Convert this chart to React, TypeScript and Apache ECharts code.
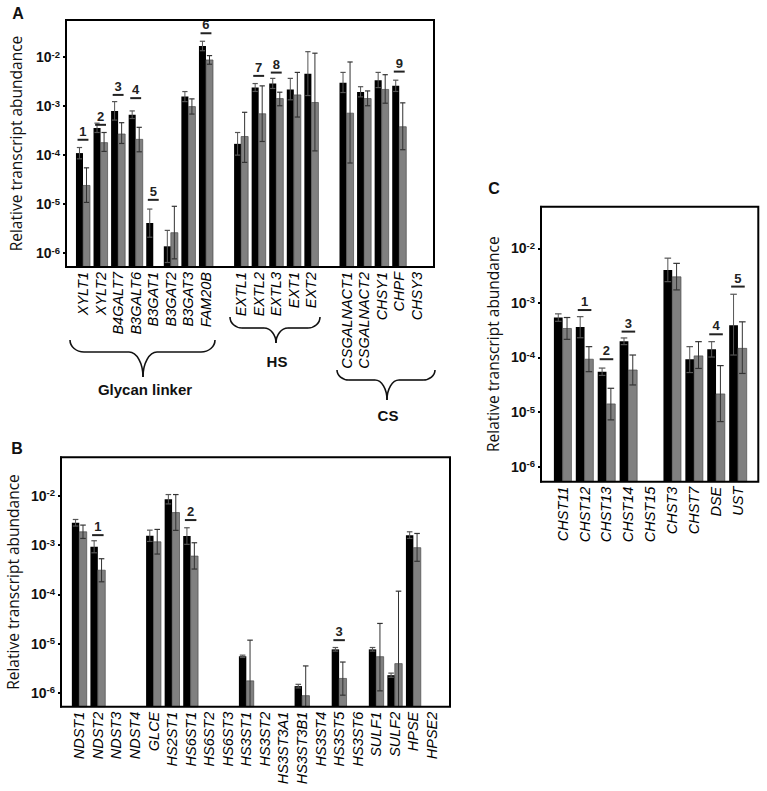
import React, { useEffect, useRef } from 'react';
import * as echarts from 'echarts';

// ---------------- DATA ----------------
const yTickValues = [1e-6, 1e-5, 1e-4, 1e-3, 1e-2];

// Panel A
const catA = ['XYLT1', 'XYLT2', 'B4GALT7', 'B3GALT6', 'B3GAT1', 'B3GAT2', 'B3GAT3', 'FAM20B', '', 'EXTL1', 'EXTL2', 'EXTL3', 'EXT1', 'EXT2', '', 'CSGALNACT1', 'CSGALNACT2', 'CHSY1', 'CHPF', 'CHSY3'];
const aBlack = [1.1e-4, 3.6e-4, 8.0e-4, 6.7e-4, 4.1e-6, 1.37e-6, 1.57e-3, 1.7e-2, null, 1.7e-4, 2.4e-3, 2.9e-3, 2.2e-3, 4.6e-3, null, 3.0e-3, 1.96e-3, 3.4e-3, 2.6e-3, null];
const aBlackHi = [1.43e-4, 4.5e-4, 1.24e-3, 8.0e-4, 7.9e-6, 2.9e-6, 1.99e-3, 2.12e-2, null, 2.9e-4, 2.9e-3, 3.7e-3, 3.7e-3, 1.3e-2, null, 4.9e-3, 2.5e-3, 4.9e-3, 3.4e-3, null];
const aBlackLo = [8.4e-5, 2.9e-4, 5.2e-4, 5.6e-4, 2.1e-6, 6.4e-7, 1.24e-3, 1.36e-2, null, 1.0e-4, 2.0e-3, 2.3e-3, 1.35e-3, 1.65e-3, null, 1.9e-3, 1.55e-3, 2.4e-3, 2.0e-3, null];
const aGray = [2.4e-5, 1.8e-4, 2.7e-4, 2.1e-4, null, 2.6e-6, 9.8e-4, 8.8e-3, null, 2.4e-4, 7.0e-4, 1.43e-3, 1.7e-3, 1.19e-3, null, 7.2e-4, 1.43e-3, 2.2e-3, 3.8e-4, null];
const aGrayHi = [5.5e-5, 2.9e-4, 4.6e-4, 3.7e-4, null, 9.0e-6, 1.41e-3, 1.08e-2, null, 7.5e-4, 2.6e-3, 1.93e-3, 4.9e-3, 1.21e-2, null, 8.0e-3, 2.05e-3, 4.4e-3, 1.17e-3, null];
const aGrayLo = [1.08e-5, 1.19e-4, 1.73e-4, 1.17e-4, null, 7.6e-7, 6.9e-4, 7.2e-3, null, 7.1e-5, 1.9e-4, 1.02e-3, 6.0e-4, 1.22e-4, null, 6.9e-5, 1.02e-3, 1.15e-3, 1.29e-4, null];
const aMarkIdx = [0, 1, 2, 3, 4, 7, 10, 11, 18];
const aMarkLevel = [2.06e-4, 4.16e-4, 1.7e-3, 1.46e-3, 1.22e-5, 3.09e-2, 4.16e-3, 4.86e-3, 5.09e-3];
const aMarkText = ['1', '2', '3', '4', '5', '6', '7', '8', '9'];

// Panel B
const catB = ['NDST1', 'NDST2', 'NDST3', 'NDST4', 'GLCE', 'HS2ST1', 'HS6ST1', 'HS6ST2', 'HS6ST3', 'HS3ST1', 'HS3ST2', 'HS3ST3A1', 'HS3ST3B1', 'HS3ST4', 'HS3ST5', 'HS3ST6', 'SULF1', 'SULF2', 'HPSE', 'HPSE2'];
const bBlack = [2.85e-3, 9.3e-4, null, null, 1.55e-3, 8.6e-3, 1.53e-3, null, null, 5.5e-6, null, null, 1.36e-6, null, 7.6e-6, null, 7.6e-6, 2.27e-6, 1.6e-3, null];
const bBlackHi = [3.33e-3, 1.23e-3, null, null, 2.02e-3, 1.07e-2, 2.26e-3, null, null, 5.8e-6, null, null, 1.48e-6, null, 8.3e-6, null, 8.3e-6, 2.5e-6, 1.87e-3, null];
const bBlackLo = [2.45e-3, 7.0e-4, null, null, 1.19e-3, 6.9e-3, 1.04e-3, null, null, 5.2e-6, null, null, 1.25e-6, null, 7.0e-6, null, 7.0e-6, 2.06e-6, 1.37e-3, null];
const bGray = [1.87e-3, 3.1e-4, null, null, 1.17e-3, 4.6e-3, 6.0e-4, null, null, 1.74e-6, null, null, 8.7e-7, null, 1.95e-6, null, 5.4e-6, 3.9e-6, 8.9e-4, null];
const bGrayHi = [2.56e-3, 5.3e-4, null, null, 2.09e-3, 1.07e-2, 1.12e-3, null, null, 1.17e-5, null, null, 3.5e-6, null, 4.2e-6, null, 2.56e-5, 1.16e-4, 1.73e-3, null];
const bGrayLo = [1.37e-3, 1.8e-4, null, null, 6.6e-4, 2.0e-3, 3.27e-4, null, null, 2.6e-7, null, null, 2.2e-7, null, 8.9e-7, null, 1.09e-6, 1.3e-7, 4.7e-4, null];
const bMarkIdx = [1, 6, 14];
const bMarkLevel = [1.6e-3, 3.24e-3, 1.17e-5];
const bMarkText = ['1', '2', '3'];

// Panel C
const catC = ['CHST11', 'CHST12', 'CHST13', 'CHST14', 'CHST15', 'CHST3', 'CHST7', 'DSE', 'UST'];
const cBlack = [5.4e-4, 3.6e-4, 5.5e-5, 1.98e-4, null, 4.0e-3, 9.3e-5, 1.41e-4, 3.9e-4];
const cBlackHi = [6.3e-4, 5.6e-4, 6.4e-5, 2.28e-4, null, 6.6e-3, 1.58e-4, 1.95e-4, 1.44e-3];
const cBlackLo = [4.6e-4, 2.3e-4, 4.7e-5, 1.72e-4, null, 2.45e-3, 5.3e-5, 1.02e-4, 1.11e-4];
const cGray = [3.4e-4, 9.3e-5, 1.41e-5, 5.9e-5, null, 3.0e-3, 1.07e-4, 2.15e-5, 1.47e-4];
const cGrayHi = [5.4e-4, 1.58e-4, 2.73e-5, 1.11e-4, null, 5.3e-3, 1.95e-4, 7.1e-5, 4.5e-4];
const cGrayLo = [2.15e-4, 5.5e-5, 7.2e-6, 3.14e-5, null, 1.73e-3, 6.3e-5, 6.7e-6, 5.1e-5];
const cMarkIdx = [1, 2, 3, 7, 8];
const cMarkLevel = [7.4e-4, 9.3e-5, 2.98e-4, 2.66e-4, 1.99e-3];
const cMarkText = ['1', '2', '3', '4', '5'];

const groupLabels = ['Glycan linker', 'HS', 'CS'];
const panelLetters = ['A', 'B', 'C'];
const yTitle = 'Relative transcript abundance';

// ---------------- LAYOUT ----------------
const panels = [
  { cats: catA, black: aBlack, blackHi: aBlackHi, blackLo: aBlackLo, gray: aGray, grayHi: aGrayHi, grayLo: aGrayLo,
    markIdx: aMarkIdx, markLevel: aMarkLevel, markText: aMarkText,
    grid: { left: 74.2, top: 20, width: 351.4, height: 247 }, frame: { x: 66, y: 20, w: 368, h: 247 },
    yMinExp: -6.286, yMaxExp: -1.239, nameGap: 42 },
  { cats: catB, black: bBlack, blackHi: bBlackHi, blackLo: bBlackLo, gray: bGray, grayHi: bGrayHi, grayLo: bGrayLo,
    markIdx: bMarkIdx, markLevel: bMarkLevel, markText: bMarkText,
    grid: { left: 70, top: 457.3, width: 371.2, height: 249.4 }, frame: { x: 61, y: 457.3, w: 389, h: 249.4 },
    yMinExp: -6.285, yMaxExp: -1.213, nameGap: 40 },
  { cats: catC, black: cBlack, blackHi: cBlackHi, blackLo: cBlackLo, gray: cGray, grayHi: cGrayHi, grayLo: cGrayLo,
    markIdx: cMarkIdx, markLevel: cMarkLevel, markText: cMarkText,
    grid: { left: 551.7, top: 206.7, width: 197.2, height: 275 }, frame: { x: 541, y: 206.7, w: 217.3, h: 275 },
    yMinExp: -6.275, yMaxExp: -1.238, nameGap: 40 },
];

const FONT = '"Liberation Sans", Arial, sans-serif';
const TITLE_FONT = '"Open Sans", sans-serif';

function barSeries(k: number, means: any[], los: any[], his: any[], side: number, color: string) {
  const n = panels[k].cats.length;
  const data = means
    .map((m, i) => (m == null ? null : [i, m, los[i], his[i]]))
    .filter((d) => d != null);
  return {
    type: 'custom',
    xAxisIndex: k,
    yAxisIndex: k,
    data,
    encode: { x: 0, y: 1 },
    renderItem: (params: any, api: any) => {
      const cs = params.coordSys;
      const band = cs.width / n;
      const bw = band * 0.4;
      const i = api.value(0);
      const p = api.coord([i, api.value(1)]);
      const x0 = side < 0 ? p[0] - bw : p[0];
      const bottom = cs.y + cs.height;
      const ex = x0 + bw / 2;
      const yHi = api.coord([i, api.value(3)])[1];
      const yLoRaw = api.coord([i, api.value(2)])[1];
      const yLo = Math.min(yLoRaw, bottom);
      const cap = bw * 0.75;
      const lineCol = side < 0 ? '#555555' : '#333333';
      const children: any[] = [
        { type: 'rect', shape: { x: x0, y: p[1], width: bw, height: bottom - p[1] },
          style: { fill: color, stroke: side < 0 ? null : '#4a4a4a', lineWidth: side < 0 ? 0 : 0.7 } },
        { type: 'line', shape: { x1: ex, y1: yHi, x2: ex, y2: yLo }, style: { stroke: lineCol, lineWidth: 1 } },
        { type: 'line', shape: { x1: ex - cap / 2, y1: yHi, x2: ex + cap / 2, y2: yHi }, style: { stroke: lineCol, lineWidth: 1.2 } },
      ];
      if (yLoRaw < bottom - 1) {
        children.push({ type: 'line', shape: { x1: ex - cap / 2, y1: yLo, x2: ex + cap / 2, y2: yLo }, style: { stroke: lineCol, lineWidth: 1.2 } });
      }
      return { type: 'group', children };
    },
  };
}

function markSeries(k: number) {
  const pnl = panels[k];
  const n = pnl.cats.length;
  const data = pnl.markIdx.map((idx, j) => [idx, pnl.markLevel[j]]);
  return {
    type: 'custom',
    xAxisIndex: k,
    yAxisIndex: k,
    data,
    encode: { x: 0, y: 1 },
    renderItem: (params: any, api: any) => {
      const cs = params.coordSys;
      const band = cs.width / n;
      const w = band * 0.62;
      const p = api.coord([api.value(0), api.value(1)]);
      return {
        type: 'group',
        children: [
          { type: 'line', shape: { x1: p[0] - w / 2, y1: p[1], x2: p[0] + w / 2, y2: p[1] }, style: { stroke: '#222', lineWidth: 2 } },
          { type: 'text', style: { text: pnl.markText[params.dataIndex], x: p[0], y: p[1] - 8.5, align: 'center', verticalAlign: 'middle',
              fill: '#222', fontSize: 13, fontWeight: 'bold', fontFamily: FONT } },
        ],
      };
    },
  };
}

function tickFormatter(v: number) {
  const e = Math.log10(v);
  const r = Math.round(e);
  if (Math.abs(e - r) > 0.01) return '';
  return '{b|10}{s|' + r + '}';
}

function braceElems(L: number, R: number, T: number, M: number, D: number, h: number, r: number) {
  const st = { stroke: '#111', lineWidth: 1.6, fill: null };
  const k = 0.552;
  const mk = (x1: number, y1: number, c1x: number, c1y: number, c2x: number, c2y: number, x2: number, y2: number) => ({
    type: 'bezierCurve', shape: { x1, y1, cpx1: c1x, cpy1: c1y, cpx2: c2x, cpy2: c2y, x2, y2 }, style: st,
  });
  const Y = T + h;
  return [
    mk(L, T, L, T + k * h, L + r - k * r, Y, L + r, Y),
    { type: 'line', shape: { x1: L + r, y1: Y, x2: M - r, y2: Y }, style: st },
    mk(M - r, Y, M - r + k * r, Y, M, D + T - k * (D - h), M, T + D),
    mk(R, T, R, T + k * h, R - r + k * r, Y, R - r, Y),
    { type: 'line', shape: { x1: R - r, y1: Y, x2: M + r, y2: Y }, style: st },
    mk(M + r, Y, M + r - k * r, Y, M, D + T - k * (D - h), M, T + D),
  ];
}

function buildOption() {
  const grid = panels.map((p) => ({ left: p.grid.left, top: p.grid.top, width: p.grid.width, height: p.grid.height, containLabel: false }));
  const xAxis = panels.map((p, k) => ({
    type: 'category',
    gridIndex: k,
    data: p.cats,
    boundaryGap: true,
    axisLine: { show: false },
    axisTick: { show: false },
    axisLabel: { interval: 0, rotate: 90, margin: 5, color: '#000', fontStyle: 'italic', fontSize: 14.5, fontFamily: FONT },
  }));
  const yAxis = panels.map((p, k) => ({
    type: 'log',
    gridIndex: k,
    min: Math.pow(10, p.yMinExp),
    max: Math.pow(10, p.yMaxExp),
    offset: p.grid.left - p.frame.x,
    axisLine: { show: true, lineStyle: { color: '#000', width: 2 } },
    axisTick: { show: true, length: 3, lineStyle: { color: '#000', width: 2 }, customValues: yTickValues },
    splitLine: { show: false },
    axisLabel: {
      customValues: yTickValues,
      margin: 6,
      formatter: tickFormatter,
      rich: {
        b: { fontSize: 14, fontWeight: 'bold', fontFamily: FONT, color: '#111', lineHeight: 16 },
        s: { fontSize: 9.5, fontWeight: 'bold', fontFamily: FONT, color: '#111', lineHeight: 11, verticalAlign: 'top' },
      },
    },
    name: yTitle,
    nameLocation: 'middle',
    nameGap: p.nameGap,
    nameTextStyle: { fontSize: 15.5, fontFamily: TITLE_FONT, color: '#111' },
  }));
  const series: any[] = [];
  panels.forEach((p, k) => {
    series.push(barSeries(k, p.black, p.blackLo, p.blackHi, -1, '#000000'));
    series.push(barSeries(k, p.gray, p.grayLo, p.grayHi, 1, '#808080'));
    series.push(markSeries(k));
  });
  const graphic: any[] = [];
  panels.forEach((p) => {
    graphic.push({ type: 'rect', shape: { x: p.frame.x, y: p.frame.y, width: p.frame.w, height: p.frame.h },
      style: { fill: null, stroke: '#000', lineWidth: 2 }, z: 10 });
  });
  const letterPos = [[18, 13], [17, 448], [494, 188]];
  panelLetters.forEach((t, i) => {
    graphic.push({ type: 'text', style: { text: t, x: letterPos[i][0], y: letterPos[i][1], align: 'center', verticalAlign: 'middle',
      fill: '#111', fontSize: 16, fontWeight: 'bold', fontFamily: FONT } });
  });
  const groupPos = [[145, 389], [277, 361], [388, 415]];
  groupLabels.forEach((t, i) => {
    graphic.push({ type: 'text', style: { text: t, x: groupPos[i][0], y: groupPos[i][1], align: 'center', verticalAlign: 'middle',
      fill: '#111', fontSize: 15, fontWeight: 'bold', fontFamily: FONT } });
  });
  graphic.push(...braceElems(70, 215, 340, 143, 37, 12, 14));
  graphic.push(...braceElems(230, 320, 317, 276, 26, 11, 12));
  graphic.push(...braceElems(337, 435, 370, 387, 30, 10, 12));

  return { animation: false, backgroundColor: '#fff', grid, xAxis, yAxis, series, graphic };
}

export default function App() {
  const ref = useRef<HTMLDivElement>(null);
  useEffect(() => {
    const chart = echarts.init(ref.current as HTMLDivElement, null, { renderer: 'svg' });
    chart.setOption(buildOption() as any);
    return () => chart.dispose();
  }, []);
  return <div ref={ref} style={{ position: 'absolute', left: 0, top: 0, width: 767, height: 791, background: '#fff' }} />;
}
